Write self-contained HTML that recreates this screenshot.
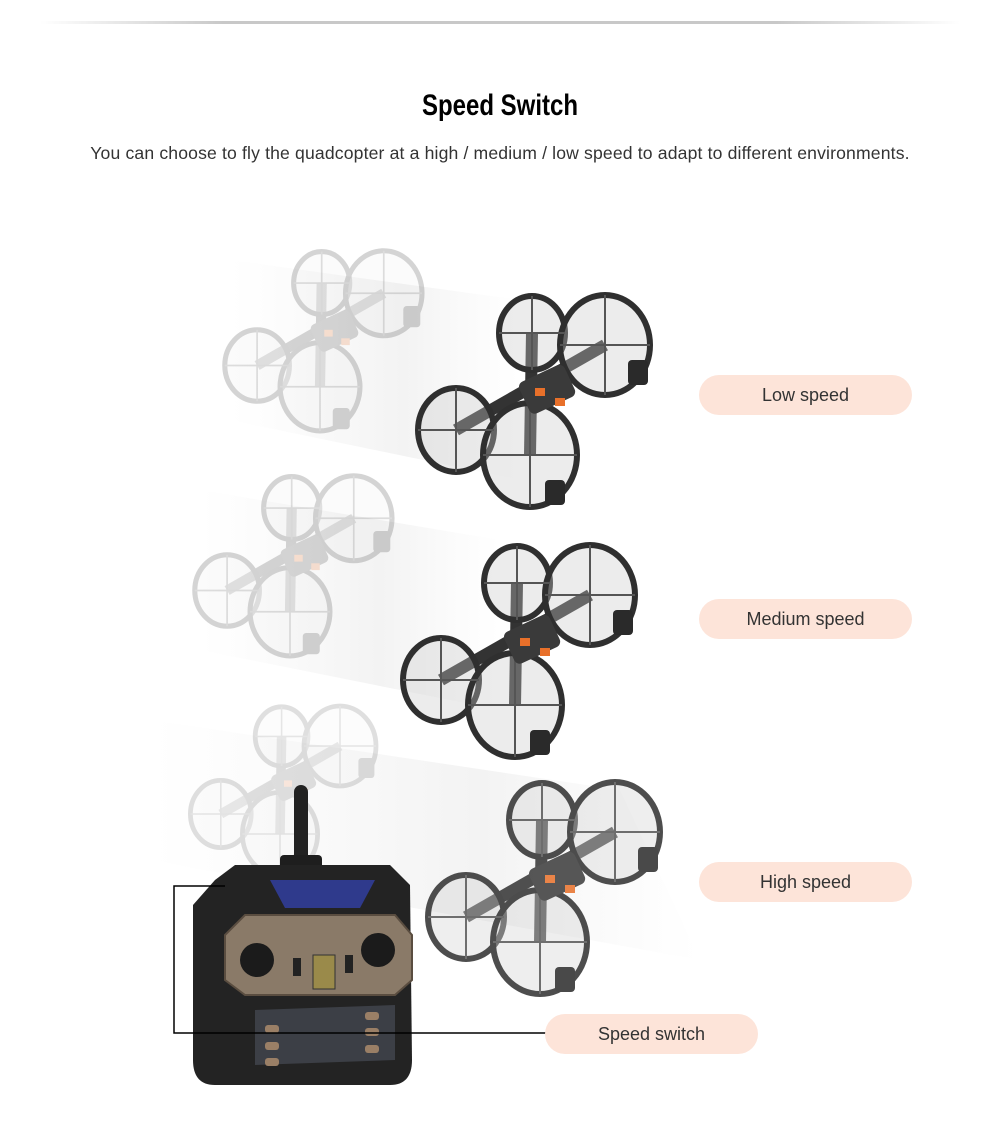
<!DOCTYPE html>
<html><head><meta charset="utf-8"><style>
html,body{margin:0;padding:0;background:#fff;}
body{width:1000px;height:1136px;position:relative;overflow:hidden;font-family:"Liberation Sans",sans-serif;}
.topline{position:absolute;left:40px;top:21px;width:920px;height:3px;background:linear-gradient(90deg,rgba(200,200,200,0),#c8c8c8 20%,#c8c8c8 80%,rgba(200,200,200,0));}
h1{position:absolute;left:0;top:89px;width:1000px;margin:0;text-align:center;font-weight:bold;font-size:30px;color:#000;transform:scaleX(0.8);transform-origin:500px 0;}
.sub{position:absolute;left:0;top:143px;width:1000px;text-align:center;font-size:17.6px;color:#333;letter-spacing:0.15px;}
.pill{position:absolute;width:213px;height:40px;border-radius:20px;background:#fde4d9;color:#333;font-size:18px;line-height:40px;text-align:center;}
svg{position:absolute;left:0;top:0;}
</style></head><body>
<div class="topline"></div>
<h1>Speed Switch</h1>
<div class="sub">You can choose to fly the quadcopter at a high / medium / low speed to adapt to different environments.</div>
<svg width="1000" height="1136" viewBox="0 0 1000 1136">
<defs>
<g id="drone">
<line x1="2" y1="-67" x2="0" y2="55" stroke="#333" stroke-width="12"/>
<line x1="75" y1="-55" x2="-74" y2="30" stroke="#333" stroke-width="12"/>
<g fill="rgba(200,200,200,0.35)" stroke="#2f2f2f" stroke-width="6">
<ellipse cx="2" cy="-67" rx="33" ry="37"/>
<ellipse cx="75" cy="-55" rx="45" ry="50"/>
<ellipse cx="-74" cy="30" rx="38" ry="42"/>
<ellipse cx="0" cy="55" rx="47" ry="52"/>
</g>
<g stroke="#555" stroke-width="2">
<line x1="-31" y1="-67" x2="35" y2="-67"/><line x1="2" y1="-104" x2="2" y2="-30"/>
<line x1="30" y1="-55" x2="120" y2="-55"/><line x1="75" y1="-105" x2="75" y2="-5"/>
<line x1="-112" y1="30" x2="-36" y2="30"/><line x1="-74" y1="-12" x2="-74" y2="72"/>
<line x1="-47" y1="55" x2="47" y2="55"/><line x1="0" y1="3" x2="0" y2="107"/>
</g>
<rect x="-5" y="-20" width="50" height="35" rx="6" fill="#3a3a3a" transform="rotate(-25)"/>
<rect x="5" y="-12" width="10" height="8" fill="#e8702a"/>
<rect x="25" y="-2" width="10" height="8" fill="#e8702a"/>
<rect x="98" y="-40" width="20" height="25" rx="4" fill="#2a2a2a"/>
<rect x="15" y="80" width="20" height="25" rx="4" fill="#2a2a2a"/>
</g>
<linearGradient id="blur" x1="0" x2="1"><stop offset="0" stop-color="#ddd" stop-opacity="0"/><stop offset="0.6" stop-color="#ccc" stop-opacity="0.6"/><stop offset="1" stop-color="#ddd" stop-opacity="0"/></linearGradient>
</defs>
<polygon points="230,260 520,300 520,480 230,420" fill="url(#blur)" opacity="0.4"/>
<polygon points="200,490 500,540 500,710 200,650" fill="url(#blur)" opacity="0.4"/>
<polygon points="150,720 620,790 700,960 150,860" fill="url(#blur)" opacity="0.4"/>
<use href="#drone" transform="translate(320,340) scale(0.85)" opacity="0.2"/>
<use href="#drone" transform="translate(290,565) scale(0.85)" opacity="0.2"/>
<use href="#drone" transform="translate(280,790) scale(0.8)" opacity="0.15"/>
<use href="#drone" transform="translate(530,400)"/>
<use href="#drone" transform="translate(515,650)"/>
<use href="#drone" transform="translate(540,887)" opacity="0.85"/>
<rect x="294" y="785" width="14" height="90" rx="7" fill="#222"/>
<rect x="280" y="855" width="42" height="20" rx="4" fill="#1e1e1e"/>
<path d="M215,880 L235,865 L390,865 L410,885 L412,1060 Q412,1085 390,1085 L215,1085 Q193,1085 193,1060 L193,905 Z" fill="#232323"/>
<polygon points="270,880 375,880 360,908 285,908" fill="#2f3a8c"/>
<path d="M225,935 L245,915 L395,915 L412,935 L412,980 L395,995 L245,995 L225,980 Z" fill="#8a7a68" stroke="#5a4d40" stroke-width="2"/>
<circle cx="257" cy="960" r="17" fill="#1b1b1b"/>
<circle cx="378" cy="950" r="17" fill="#1b1b1b"/>
<rect x="313" y="955" width="22" height="34" fill="#9a8a4a" stroke="#333"/>
<rect x="293" y="958" width="8" height="18" fill="#222"/>
<rect x="345" y="955" width="8" height="18" fill="#222"/>
<path d="M255,1010 L395,1005 L395,1060 L255,1065 Z" fill="#3c3f46"/>
<g fill="#9a7f66"><rect x="265" y="1025" width="14" height="8" rx="3"/><rect x="265" y="1042" width="14" height="8" rx="3"/><rect x="265" y="1058" width="14" height="8" rx="3"/><rect x="365" y="1012" width="14" height="8" rx="3"/><rect x="365" y="1028" width="14" height="8" rx="3"/><rect x="365" y="1045" width="14" height="8" rx="3"/></g>
<polyline points="225,886 174,886 174,1033 546,1033" fill="none" stroke="#000" stroke-width="1.5"/>
</svg>
<div class="pill" style="left:699px;top:375px;">Low speed</div>
<div class="pill" style="left:699px;top:599px;">Medium speed</div>
<div class="pill" style="left:699px;top:862px;">High speed</div>
<div class="pill" style="left:545px;top:1014px;">Speed switch</div>
</body></html>
